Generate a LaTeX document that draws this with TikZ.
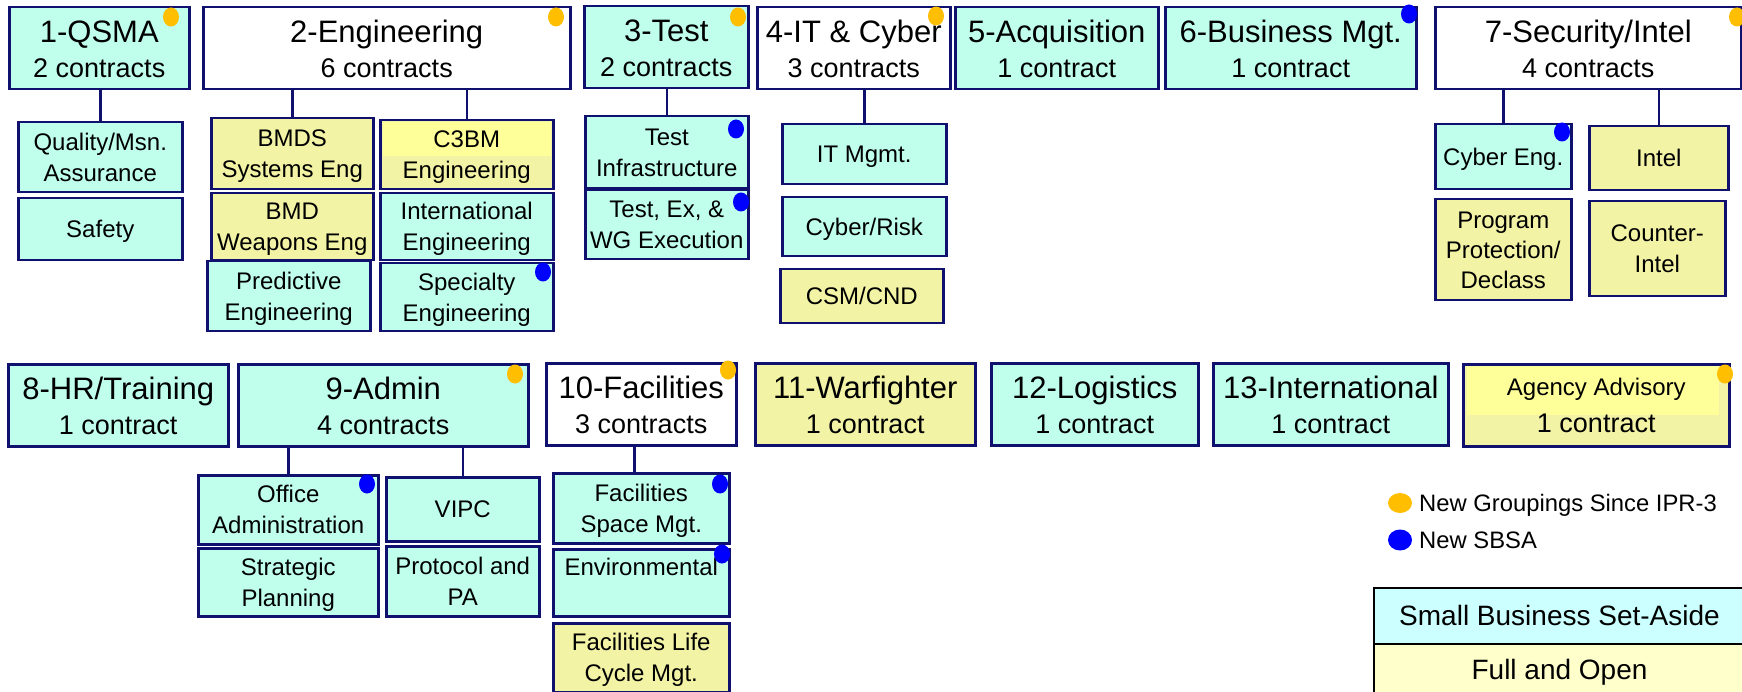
\documentclass[tikz,border=0pt]{standalone}
\usepackage{fontspec}
\setmainfont{Liberation Sans}
\definecolor{navy}{RGB}{16,16,110}
\definecolor{mint}{RGB}{191,255,236}
\definecolor{khaki}{RGB}{243,243,166}
\definecolor{gold}{RGB}{255,190,0}
\definecolor{sbblue}{RGB}{0,0,255}
\definecolor{lgcyan}{RGB}{204,255,255}
\definecolor{lgyel}{RGB}{255,255,204}
\definecolor{bright}{RGB}{255,255,153}
\newcommand{\ttl}[1]{{\fontsize{31}{35}\selectfont #1}}
\begin{document}
\begin{tikzpicture}[x=1pt,y=-1pt,
  box/.style={draw=navy, line width=2.5pt, inner sep=0pt, anchor=north west, align=center},
  sba/.style={box, fill=mint},
  fob/.style={box, fill=khaki},
  whb/.style={box, fill=white},
  head/.style={font=\fontsize{27}{35}\selectfont, text height=58pt, text depth=0pt},
  one/.style={font=\fontsize{24}{31}\selectfont, text height=17pt, text depth=0pt},
  two/.style={font=\fontsize{24}{31}\selectfont, text height=48pt, text depth=0pt},
  three/.style={font=\fontsize{24}{30}\selectfont, text height=77pt, text depth=0pt},
  conn/.style={draw=navy, line width=2.5pt},
  lgtext/.style={anchor=base west, inner sep=0pt, font=\fontsize{23.8}{28}\selectfont},
  lgbox/.style={draw=black, line width=2pt, inner sep=0pt, anchor=north west,
    font=\fontsize{28}{32}\selectfont, text height=19pt, text depth=0pt}
]
\useasboundingbox (0,0) rectangle (1742,692);

% ---- row 1 headers
\node[sba, head, minimum width=180pt, minimum height=82pt] (qsma) at (8,6) {\ttl{1-QSMA}\\2 contracts};
\node[whb, head, minimum width=367pt, minimum height=82pt] (eng) at (202,6) {\ttl{2-Engineering}\\6 contracts};
\node[sba, head, minimum width=164pt, minimum height=82pt] (test) at (583,5) {\ttl{3-Test}\\2 contracts};
\node[whb, head, minimum width=193pt, minimum height=82pt] (itc) at (756,6) {\ttl{4-IT \& Cyber}\\3 contracts};
\node[sba, head, minimum width=203pt, minimum height=82pt] (acq) at (954,6) {\ttl{5-Acquisition}\\1 contract};
\node[sba, head, minimum width=251pt, minimum height=82pt] (bus) at (1164,6) {\ttl{6-Business Mgt.}\\1 contract};
\node[whb, head, minimum width=306pt, minimum height=82pt] (sec) at (1434,6) {\ttl{7-Security/Intel}\\4 contracts};

% ---- row 1 children
\node[sba, two, minimum width=164pt, minimum height=70pt] (qual) at (17,121) {Quality/Msn.\\Assurance};
\node[sba, one, minimum width=164pt, minimum height=62pt] (safety) at (17,197) {Safety};
\node[fob, two, minimum width=162pt, minimum height=71pt] (bmds) at (210,117) {BMDS\\Systems Eng};
\node[fob, two, minimum width=173pt, minimum height=69pt,
  path picture={\fill[bright] ([xshift=3pt,yshift=-2pt]path picture bounding box.north west) rectangle ([xshift=-2pt,yshift=33pt]path picture bounding box.south east);}] (c3bm) at (379,119) {C3BM\\Engineering};
\node[fob, two, minimum width=162pt, minimum height=67pt] (bmdw) at (210,192) {BMD\\Weapons Eng};
\node[sba, two, minimum width=173pt, minimum height=67pt] (intl) at (379,192) {International\\Engineering};
\node[sba, two, minimum width=163pt, minimum height=70pt] (pred) at (206,260) {Predictive\\Engineering};
\node[sba, two, minimum width=173pt, minimum height=68pt] (spec) at (379,262) {Specialty\\Engineering};

\node[sba, two, minimum width=163pt, minimum height=72pt] (tinf) at (584,115) {Test\\Infrastructure};
\node[sba, two, minimum width=163pt, minimum height=69pt] (tex) at (584,189) {Test, Ex, \&\\WG Execution};

\node[sba, one, minimum width=164pt, minimum height=60pt] (itm) at (781,123) {IT Mgmt.};
\node[sba, one, minimum width=164pt, minimum height=59pt] (cyr) at (781,196) {Cyber/Risk};
\node[fob, one, minimum width=163pt, minimum height=54pt] (csm) at (779,268) {CSM/CND};

\node[sba, one, minimum width=136pt, minimum height=65pt] (cyeng) at (1434,123) {Cyber Eng.};
\node[fob, one, minimum width=139pt, minimum height=64pt] (intel) at (1588,125) {Intel};
\node[fob, three, minimum width=136pt, minimum height=101pt] (pp) at (1434,198) {Program\\Protection/\\Declass};
\node[fob, two, minimum width=136pt, minimum height=95pt] (ci) at (1588,200) {Counter-\\Intel};

% ---- row 2 headers
\node[sba, head, minimum width=220pt, minimum height=82pt] (hr) at (7,363) {\ttl{8-HR/Training}\\1 contract};
\node[sba, head, minimum width=290pt, minimum height=82pt] (adm) at (237,363) {\ttl{9-Admin}\\4 contracts};
\node[whb, head, minimum width=190pt, minimum height=82pt] (fac) at (545,362) {\ttl{10-Facilities}\\3 contracts};
\node[fob, head, minimum width=220pt, minimum height=82pt] (war) at (754,362) {\ttl{11-Warfighter}\\1 contract};
\node[sba, head, minimum width=207pt, minimum height=82pt] (logi) at (990,362) {\ttl{12-Logistics}\\1 contract};
\node[sba, head, minimum width=235pt, minimum height=82pt] (intn) at (1212,362) {\ttl{13-International}\\1 contract};
\node[fob, font=\fontsize{27}{37}\selectfont, text height=55pt, text depth=0pt, minimum width=266pt, minimum height=82pt,
  path picture={\fill[bright] ([xshift=4pt,yshift=-2pt]path picture bounding box.north west) rectangle ([xshift=-10pt,yshift=31pt]path picture bounding box.south east);}] (agency) at (1462,363) {{\fontsize{24}{37}\selectfont Agency Advisory}\\1 contract};

% ---- row 2 children
\node[sba, two, minimum width=180pt, minimum height=69pt] (off) at (197,474) {Office\\Administration};
\node[sba, two, minimum width=180pt, minimum height=68pt] (strat) at (197,547) {Strategic\\Planning};
\node[sba, one, minimum width=153pt, minimum height=64pt] (vipc) at (385,476) {VIPC};
\node[sba, two, minimum width=153pt, minimum height=70pt] (prot) at (385,545) {Protocol and\\PA};
\node[sba, two, minimum width=176pt, minimum height=70pt] (fsp) at (552,472) {Facilities\\Space Mgt.};
\node[sba, two, minimum width=176pt, minimum height=67pt] (env) at (552,548) {Environmental\\\mbox{}};
\node[fob, two, minimum width=176pt, minimum height=69pt] (flc) at (552,622) {Facilities Life\\Cycle Mgt.};

% ---- connectors
\draw[conn] (qual.north) -- (qual.north |- qsma.south);
\draw[conn] (bmds.north) -- (bmds.north |- eng.south);
\draw[conn] (c3bm.north) -- (c3bm.north |- eng.south);
\draw[conn] (tinf.north) -- (tinf.north |- test.south);
\draw[conn] (itm.north) -- (itm.north |- itc.south);
\draw[conn] (cyeng.north) -- (cyeng.north |- sec.south);
\draw[conn] (intel.north) -- (intel.north |- sec.south);
\draw[conn] (off.north) -- (off.north |- adm.south);
\draw[conn] (vipc.north) -- (vipc.north |- adm.south);
\draw[conn] ([xshift=-7pt]fsp.north) -- ([xshift=-7pt]fsp.north |- fac.south);

% ---- markers
\foreach \p in {(171,17),(556,17),(738,17),(936,16),(1737,17),(515,374),(728,370),(1725,374)}
  \fill[gold] \p ellipse [x radius=8, y radius=9.5];
\foreach \p in {(1409,14),(736,129),(741,202),(543,272),(1562,132),(367,484),(720,484),(722,554)}
  \fill[sbblue] \p ellipse [x radius=8, y radius=9.5];
\fill[gold] (1400,503) ellipse [x radius=12, y radius=10];
\fill[sbblue] (1400,540) ellipse [x radius=12, y radius=10.5];

% ---- legend
\node[lgtext] (lg1) at (1419,511) {New Groupings Since IPR-3};
\node[lgtext] (lg2) at (1419,548) {New SBSA};
\node[lgbox, fill=lgcyan, minimum width=371pt, minimum height=56pt] (lgsb) at (1373,587) {Small Business Set-Aside};
\node[lgbox, fill=lgyel, minimum width=371pt, minimum height=51pt] (lgfo) at (1373,643) {Full and Open};
\end{tikzpicture}
\end{document}
